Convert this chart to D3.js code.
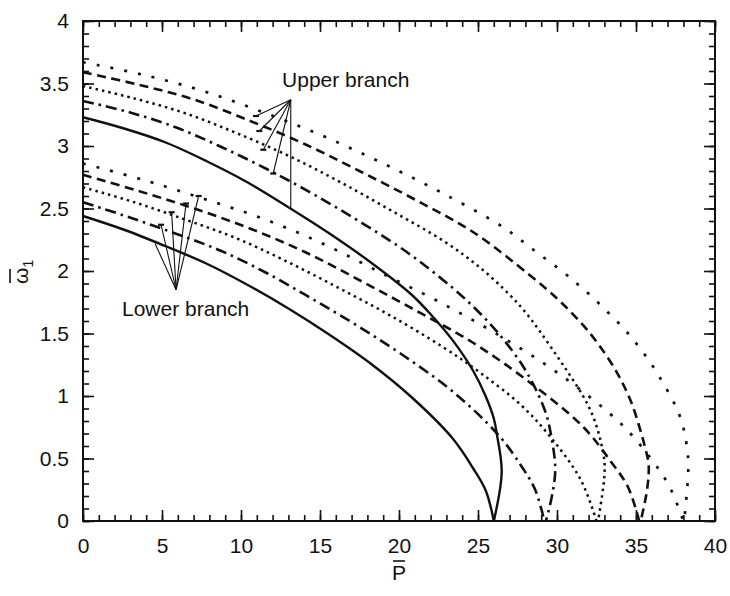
<!DOCTYPE html>
<html>
<head>
<meta charset="utf-8">
<script src="https://cdn.jsdelivr.net/npm/d3@7"></script>
<style>
  html, body { margin: 0; padding: 0; background: #fff; }
  svg { display: block; font-family: 'Liberation Sans', Arial, Helvetica, sans-serif; }
</style>
</head>
<body>
<div id="chart"></div>
<script>
// values: [P, omega]
const xTicks = [0, 5, 10, 15, 20, 25, 30, 35, 40];
const yTicks = [0, 0.5, 1, 1.5, 2, 2.5, 3, 3.5, 4];

const upperSolid = [[0, 3.23], [2.6, 3.14], [5.2, 3.03], [7.8, 2.88], [10.4, 2.71], [13, 2.51], [15.6, 2.3], [18.2, 2.07], [20.8, 1.81], [22.1, 1.64], [23.4, 1.445], [24.7, 1.2], [25.48, 1.0], [26.0, 0.82], [26.2, 0.69], [26.5, 0.39], [26.0, 0]];
const upperDashDot = [[0, 3.36], [2.93, 3.27], [5.86, 3.15], [8.79, 2.99], [11.72, 2.81], [14.65, 2.61], [17.58, 2.39], [20.51, 2.15], [23.44, 1.86], [24.9, 1.69], [26.37, 1.49], [27.84, 1.24], [28.71, 1.04], [29.3, 0.86], [29.59, 0.71], [29.89, 0.42], [29.68, 0.2], [29.3, 0]];
const upperDotted = [[0, 3.48], [3.26, 3.38], [6.52, 3.26], [9.78, 3.1], [13.04, 2.92], [16.3, 2.71], [19.56, 2.48], [22.82, 2.24], [25.1, 2.03], [27.0, 1.81], [28.0, 1.67], [28.9, 1.52], [30.0, 1.32], [30.8, 1.17], [31.6, 1.01], [32.1, 0.89], [32.5, 0.76], [32.8, 0.62], [33.0, 0.48], [33.0, 0.36], [32.85, 0.2], [32.6, 0]];
const upperDashed = [[0, 3.59], [3.53, 3.49], [7.06, 3.37], [10.59, 3.2], [14.12, 3.01], [17.65, 2.79], [21.18, 2.56], [24.71, 2.31], [28.24, 1.97], [30.0, 1.78], [31.0, 1.655], [31.9, 1.53], [32.7, 1.4], [33.6, 1.23], [34.2, 1.09], [34.7, 0.95], [35.15, 0.78], [35.55, 0.6], [35.8, 0.45], [35.7, 0.25], [35.3, 0]];
const upperSparse = [[0, 3.67], [3.8, 3.57], [7.6, 3.44], [11.4, 3.27], [15.2, 3.08], [19.0, 2.86], [22.8, 2.62], [26.6, 2.35], [28.5, 2.17], [30.4, 1.99], [31.3, 1.895], [32.2, 1.795], [33.1, 1.685], [34.0, 1.57], [34.7, 1.47], [35.3, 1.375], [36.0, 1.25], [36.5, 1.15], [37.05, 1.03], [37.5, 0.92], [37.8, 0.83], [38.1, 0.69], [38.3, 0.5], [38.3, 0.38], [38.2, 0.2], [38.05, 0]];

const lowerSolid = [[0, 2.44], [2.6, 2.33], [5.2, 2.2], [7.8, 2.06], [10.4, 1.89], [13, 1.7], [15.6, 1.49], [18.2, 1.26], [20.8, 0.99], [23.4, 0.66], [24.7, 0.42], [25.5, 0.24], [26.0, 0]];
const lowerDashDot = [[0, 2.55], [2.92, 2.43], [5.84, 2.3], [8.76, 2.16], [11.68, 1.98], [14.6, 1.77], [17.52, 1.55], [20.44, 1.31], [23.36, 1.04], [26.28, 0.69], [27.74, 0.44], [28.62, 0.25], [29.2, 0]];
const lowerDotted = [[0, 2.67], [3.25, 2.55], [6.5, 2.41], [9.75, 2.26], [13, 2.07], [16.25, 1.86], [19.5, 1.64], [22.8, 1.39], [25.1, 1.19], [27.7, 0.93], [29.6, 0.67], [31.5, 0.33], [32.5, 0]];
const lowerDashed = [[0, 2.77], [3.52, 2.64], [7.04, 2.5], [10.56, 2.34], [14.08, 2.15], [17.6, 1.92], [21.12, 1.68], [24.64, 1.43], [28.16, 1.12], [31.68, 0.75], [33.44, 0.47], [34.5, 0.27], [35.2, 0]];
const lowerSparse = [[0, 2.86], [3.79, 2.73], [7.58, 2.58], [11.37, 2.42], [15.16, 2.22], [18.95, 1.98], [22.74, 1.74], [26.53, 1.47], [30.32, 1.16], [34.11, 0.77], [36.0, 0.49], [37.1, 0.28], [38.0, 0]];

// pointer annotations (data coordinates)
const upperHub = [13.15, 3.37];
const upperEnds = [[10.95, 3.24], [11.16, 3.12], [11.41, 2.97], [12.04, 2.78], [13.15, 2.49]];
const lowerHub = [5.89, 1.85];
const lowerEnds = [[4.56, 2.22], [4.94, 2.37], [5.61, 2.47], [6.52, 2.54], [7.32, 2.6]];

const makeChart = () => {
  const size = { width: 730, height: 596 };
  const margin = { top: 21, right: 15, bottom: 75, left: 83 };

  const container = d3.select('#chart');
  container.selectAll('*').remove();

  const svg = container
    .append('svg')
    .attr('width', size.width)
    .attr('height', size.height);

  svg.append('rect').attr('width', size.width).attr('height', size.height).attr('fill', '#fff');

  const x = d3
    .scaleLinear()
    .domain([0, 40])
    .range([margin.left, size.width - margin.right]);

  const y = d3
    .scaleLinear()
    .domain([0, 4])
    .range([size.height - margin.bottom, margin.top]);

  const xMinor = d3.range(0, 41, 1);
  const yMinor = d3.range(0, 41, 1).map((d) => d / 10);

  const styleAxis = (g) => {
    g.select('.domain').remove();
    g.selectAll('line').attr('stroke', '#111').attr('stroke-width', 1.6);
    g.selectAll('text')
      .attr('fill', '#111')
      .style('font-size', '21px')
      .style('font-family', "'Liberation Sans', Arial, sans-serif");
  };

  // Axes: minor and major ticks on all four sides, pointing in
  const bottom = size.height - margin.bottom;
  const right = size.width - margin.right;

  svg.append('g').attr('transform', `translate(0, ${bottom})`)
    .call(d3.axisBottom(x).tickValues(xMinor).tickSize(-6).tickFormat(''))
    .call(styleAxis);
  svg.append('g').attr('transform', `translate(0, ${bottom})`)
    .call(d3.axisBottom(x).tickValues(xTicks).tickSize(-11).tickPadding(17).tickFormat(d3.format('d')))
    .call(styleAxis);
  svg.append('g').attr('transform', `translate(0, ${margin.top})`)
    .call(d3.axisTop(x).tickValues(xMinor).tickSize(-6).tickFormat(''))
    .call(styleAxis);
  svg.append('g').attr('transform', `translate(0, ${margin.top})`)
    .call(d3.axisTop(x).tickValues(xTicks).tickSize(-11).tickFormat(''))
    .call(styleAxis);

  svg.append('g').attr('transform', `translate(${margin.left}, 0)`)
    .call(d3.axisLeft(y).tickValues(yMinor).tickSize(-6).tickFormat(''))
    .call(styleAxis);
  svg.append('g').attr('transform', `translate(${margin.left}, 0)`)
    .call(d3.axisLeft(y).tickValues(yTicks).tickSize(-11).tickPadding(14).tickFormat((d) => `${d}`))
    .call(styleAxis);
  svg.append('g').attr('transform', `translate(${right}, 0)`)
    .call(d3.axisRight(y).tickValues(yMinor).tickSize(-6).tickFormat(''))
    .call(styleAxis);
  svg.append('g').attr('transform', `translate(${right}, 0)`)
    .call(d3.axisRight(y).tickValues(yTicks).tickSize(-11).tickFormat(''))
    .call(styleAxis);

  // frame
  svg.append('rect')
    .attr('x', x(0))
    .attr('y', y(4))
    .attr('width', x(40) - x(0))
    .attr('height', y(0) - y(4))
    .attr('fill', 'none')
    .attr('stroke', '#111')
    .attr('stroke-width', 2);

  /*
     Curves
   */
  const series = [
    { data: upperSolid, dash: null, width: 2.4 },
    { data: lowerSolid, dash: null, width: 2.4 },
    { data: upperDashDot, dash: '11,5,2.5,5', width: 2.6 },
    { data: lowerDashDot, dash: '11,5,2.5,5', width: 2.6 },
    { data: upperDotted, dash: '2.5,4', width: 2.5 },
    { data: lowerDotted, dash: '2.5,4', width: 2.5 },
    { data: upperDashed, dash: '9,5.5', width: 2.6 },
    { data: lowerDashed, dash: '9,5.5', width: 2.6 },
    { data: upperSparse, dash: '3,11', width: 2.7 },
    { data: lowerSparse, dash: '3,11', width: 2.7 },
  ];

  const line = d3
    .line()
    .x((d) => x(d[0]))
    .y((d) => y(d[1]))
    .curve(d3.curveCatmullRom.alpha(0.5));

  const plot = svg.append('g');
  series.forEach((s) => {
    plot
      .append('path')
      .datum(s.data)
      .attr('d', line)
      .attr('fill', 'none')
      .attr('stroke', '#111')
      .attr('stroke-width', s.width)
      .attr('stroke-dasharray', s.dash);
  });

  /*
     Annotations
   */
  const notes = svg.append('g').attr('stroke', '#111').attr('stroke-width', 1.1);

  const drawPointer = (hub, ends, tickFrom) => {
    ends.forEach((e, i) => {
      notes.append('line')
        .attr('x1', x(hub[0]))
        .attr('y1', y(hub[1]))
        .attr('x2', x(e[0]))
        .attr('y2', y(e[1]));
      if (i >= tickFrom) {
        notes.append('line')
          .attr('x1', x(e[0]) - 3)
          .attr('x2', x(e[0]) + 3)
          .attr('y1', y(e[1]))
          .attr('y2', y(e[1]))
          .attr('stroke-width', 2.2);
      }
    });
  };
  drawPointer(upperHub, upperEnds.slice(0, 4), 0);
  drawPointer(upperHub, upperEnds.slice(4), 9);
  drawPointer(lowerHub, lowerEnds, 1);

  svg.append('text')
    .text('Upper branch')
    .attr('x', x(12.6))
    .attr('y', y(3.47))
    .attr('fill', '#111')
    .style('font-size', '21px');

  svg.append('text')
    .text('Lower branch')
    .attr('x', x(2.47))
    .attr('y', y(1.64))
    .attr('fill', '#111')
    .style('font-size', '21px');

  // axis titles with overbars
  const pTitle = svg.append('text')
    .text('P')
    .attr('x', (x(0) + x(40)) / 2)
    .attr('y', 580)
    .attr('text-anchor', 'middle')
    .attr('fill', '#111')
    .style('font-size', '21px');
  const pBox = pTitle.node().getBBox();
  svg.append('line')
    .attr('x1', pBox.x + 1)
    .attr('x2', pBox.x + pBox.width - 1)
    .attr('y1', 561)
    .attr('y2', 561)
    .attr('stroke', '#111')
    .attr('stroke-width', 1.6);

  const yTitle = svg.append('g').attr('transform', 'translate(28, 284) rotate(-90)');
  const omega = yTitle.append('text')
    .attr('x', 0)
    .attr('y', 0)
    .attr('fill', '#111')
    .style('font-size', '21px');
  omega.append('tspan').text('ω');
  omega.append('tspan').text('1').attr('dy', 5).style('font-size', '14px');
  yTitle.append('line')
    .attr('x1', 1)
    .attr('x2', 15)
    .attr('y1', -18)
    .attr('y2', -18)
    .attr('stroke', '#111')
    .attr('stroke-width', 1.6);
};

makeChart();
</script>
</body>
</html>
